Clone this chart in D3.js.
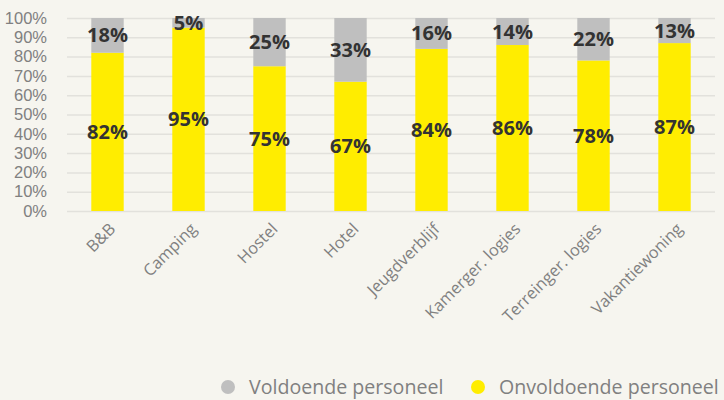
<!DOCTYPE html>
<html>
<head>
<meta charset="utf-8">
<script src="https://cdn.jsdelivr.net/npm/d3@7"></script>
<style>
  html, body { margin: 0; padding: 0; background: #f6f5ef; }
  svg { display: block; font-family: "Open Sans", sans-serif; }
</style>
</head>
<body>
<div id="chart"></div>
<script>
// categories and shares (percent)
var categories = ["B&B", "Camping", "Hostel", "Hotel", "Jeugdverblijf", "Kamerger. logies", "Terreinger. logies", "Vakantiewoning"];
var onvoldoende = [82, 95, 75, 67, 84, 86, 78, 87];
var voldoende = [18, 5, 25, 33, 16, 14, 22, 13];
var seriesNames = ["Voldoende personeel", "Onvoldoende personeel"];
var yTicks = [0, 10, 20, 30, 40, 50, 60, 70, 80, 90, 100];

var config = {
    colors: {
        onvoldoende: '#ffed00',
        voldoende: '#bfbfbf',
        grid: '#e2e1dc',
        tick: '#808080',
        label: '#333333'
    },
    width: 724,
    height: 400,
    margin: { top: 18, right: 9, bottom: 189, left: 67 }
};

var rows = categories.map(function (c, i) {
    return { cat: c, onvoldoende: onvoldoende[i], voldoende: voldoende[i] };
});
var stacked = d3.stack().keys(["onvoldoende", "voldoende"])(rows);

var svg = d3.select('#chart').append('svg')
    .attr('width', config.width)
    .attr('height', config.height);

var m = config.margin;
var w = config.width - m.left - m.right;
var h = config.height - m.top - m.bottom;

var g = svg.append('g').attr('transform', 'translate(' + m.left + ',' + m.top + ')');

var x = d3.scaleBand().domain(categories).range([0, w]).paddingInner(0.6).paddingOuter(0.3);
var y = d3.scaleLinear().domain([0, 100]).range([h, 0]);

// gridlines
g.selectAll('.grid').data(yTicks).enter().append('line')
    .attr('x1', 0).attr('x2', w)
    .attr('y1', function (d) { return y(d) + 0.5; })
    .attr('y2', function (d) { return y(d) + 0.5; })
    .attr('stroke', config.colors.grid)
    .attr('stroke-width', 1.5);

// y axis
var yAxis = g.append('g').attr('transform', 'translate(-17,0)')
    .call(d3.axisLeft(y).tickValues(yTicks).tickSize(0).tickFormat(function (d) { return d + '%'; }));
yAxis.select('.domain').remove();
yAxis.selectAll('text')
    .attr('fill', config.colors.tick)
    .attr('font-size', 16.5)
    .attr('font-family', '"Liberation Sans", sans-serif');

// bars
var layers = g.selectAll('.layer').data(stacked).enter().append('g')
    .attr('fill', function (d) { return config.colors[d.key]; });

layers.selectAll('rect').data(function (d) { return d; }).enter().append('rect')
    .attr('x', function (d) { return x(d.data.cat); })
    .attr('width', x.bandwidth())
    .attr('y', function (d) { return y(d[1]); })
    .attr('height', function (d) { return y(d[0]) - y(d[1]); });

// value labels
layers.selectAll('text').data(function (d) { return d; }).enter().append('text')
    .attr('x', function (d) { return x(d.data.cat) + x.bandwidth() / 2; })
    .attr('y', function (d) { return y((d[0] + d[1]) / 2); })
    .attr('dy', '0.35em')
    .attr('text-anchor', 'middle')
    .attr('font-size', 20)
    .attr('font-weight', 'bold')
    .attr('fill', config.colors.label)
    .text(function (d) { return (d[1] - d[0]) + '%'; });

// x axis
var xAxis = g.append('g').attr('transform', 'translate(0,' + h + ')')
    .call(d3.axisBottom(x).tickSize(0));
xAxis.select('.domain').remove();
xAxis.selectAll('text')
    .attr('fill', config.colors.tick)
    .attr('font-size', 16.3)
    .attr('font-family', '"Open Sans", sans-serif')
    .attr('text-anchor', 'end')
    .attr('transform', 'translate(5,15) rotate(-45)')
    .attr('dy', '0.35em')
    .attr('y', 0);

// legend
var legendItems = [
    { name: seriesNames[0], color: config.colors.voldoende, x: 228 },
    { name: seriesNames[1], color: config.colors.onvoldoende, x: 478 }
];
var legend = svg.selectAll('.legend').data(legendItems).enter().append('g')
    .attr('transform', function (d) { return 'translate(' + d.x + ',387)'; });
legend.append('circle').attr('r', 7).attr('fill', function (d) { return d.color; });
legend.append('text')
    .attr('x', 21).attr('dy', '0.35em')
    .attr('font-size', 19.6)
    .attr('fill', config.colors.tick)
    .text(function (d) { return d.name; });
</script>
</body>
</html>
